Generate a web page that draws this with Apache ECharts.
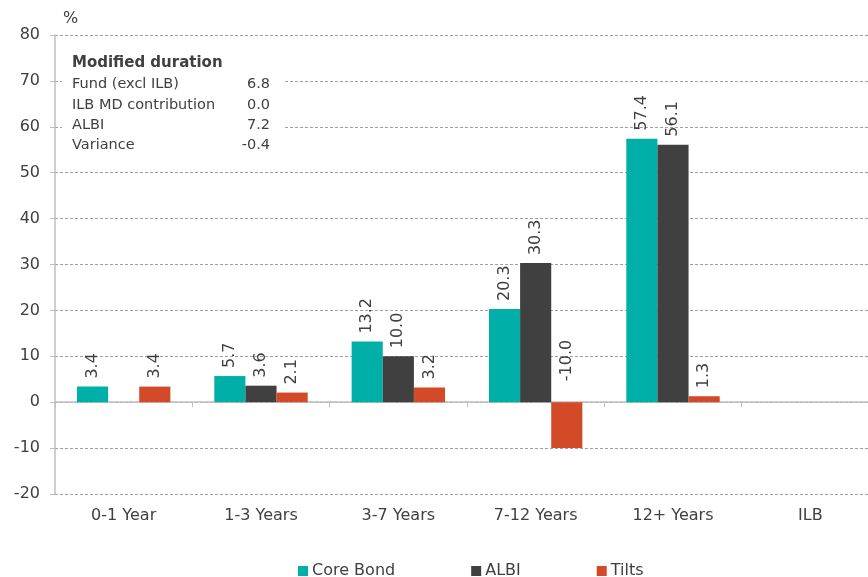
<!DOCTYPE html>
<html>
<head>
<meta charset="utf-8">
<script src="https://cdn.jsdelivr.net/npm/echarts@6/dist/echarts.min.js"></script>
<style>html,body{margin:0;padding:0;background:#fff;overflow:hidden;width:868px;height:577px}#c{width:879px;height:577px}</style>
</head>
<body>
<div id="c"></div>
<script>
var categories = ['0-1 Year', '1-3 Years', '3-7 Years', '7-12 Years', '12+ Years', 'ILB'];
var coreBond = [3.4, 5.7, 13.2, 20.3, 57.4, null];
var albi = [null, 3.6, 10.0, 30.3, 56.1, null];
var tilts = [3.4, 2.1, 3.2, -10.0, 1.3, null];
var yTicks = [-20, -10, 0, 10, 20, 30, 40, 50, 60, 70, 80];
var mdTitle = 'Modified duration';
var mdLabels = ['Fund (excl ILB)', 'ILB MD contribution', 'ALBI', 'Variance'];
var mdValues = ['6.8', '0.0', '7.2', '-0.4'];

var FONT = '"DejaVu Sans", Verdana, sans-serif';
var TXT = '#404040';
var chart = echarts.init(document.getElementById('c'), null, {renderer: 'canvas'});

function lbl() {
  return {
    show: true, position: 'top', rotate: 90, distance: 8,
    align: 'left', verticalAlign: 'middle',
    color: TXT, fontSize: 16, fontFamily: FONT,
    formatter: function (p) { return p.value == null ? '' : p.value.toFixed(1); }
  };
}
function mk(name, data, color) {
  return {
    name: name, type: 'bar',
    data: data.map(function (v) {
      return (v != null && v < 0) ? {value: v, label: {distance: 21}} : v;
    }),
    xAxisIndex: 0,
    barGap: '0%', barCategoryGap: '32%',
    itemStyle: {color: color},
    label: lbl(),
    emphasis: {disabled: true}
  };
}

var graphics = [{
  type: 'rect', left: 62, top: 44, z: 10,
  shape: {width: 222, height: 116},
  style: {fill: '#ffffff'}
}, {
  type: 'text', left: 63, top: 11, z: 11,
  style: {text: '%', fill: TXT, font: '16px ' + FONT}
}, {
  type: 'text', left: 72, top: 56, z: 11,
  style: {text: mdTitle, fill: TXT, font: 'bold 15px ' + FONT}
}];
mdLabels.forEach(function (t, i) {
  graphics.push({type: 'text', left: 72, top: 77 + i * 20.4, z: 11,
    style: {text: t, fill: TXT, font: '14.5px ' + FONT}});
  graphics.push({type: 'text', position: [270, 77 + i * 20.4], z: 11,
    style: {text: mdValues[i], fill: TXT, font: '14.5px ' + FONT, align: 'right', verticalAlign: 'top'}});
});

chart.setOption({
  animation: false,
  backgroundColor: '#ffffff',
  textStyle: {fontFamily: FONT},
  grid: {left: 55, right: 0, top: 35, bottom: 83, containLabel: false},
  legend: {
    data: ['Core Bond', 'ALBI', 'Tilts'],
    left: 293, top: 558, icon: 'rect', itemWidth: 10, itemHeight: 10,
    itemGap: 76,
    textStyle: {color: TXT, fontSize: 16, fontFamily: FONT, padding: [0, 0, 0, -1]}
  },
  xAxis: [{
    type: 'category', data: categories, position: 'bottom',
    axisLine: {onZero: true, lineStyle: {color: '#bfbfbf', width: 1.5}},
    axisTick: {show: true, length: 5, lineStyle: {color: '#bfbfbf'}},
    axisLabel: {show: false},
    splitLine: {show: false}
  }, {
    type: 'category', data: categories, position: 'bottom',
    axisLine: {show: false, onZero: false},
    axisTick: {show: false},
    axisLabel: {show: true, margin: 14, color: TXT, fontSize: 16, fontFamily: FONT},
    splitLine: {show: false}
  }],
  yAxis: {
    type: 'value', min: yTicks[0], max: yTicks[yTicks.length - 1], interval: 10,
    axisLine: {show: true, lineStyle: {color: '#bfbfbf', width: 1.5}},
    axisTick: {show: true, length: 5, lineStyle: {color: '#bfbfbf'}},
    axisLabel: {color: TXT, fontSize: 16, fontFamily: FONT, margin: 15},
    splitLine: {show: true, lineStyle: {color: '#a0a0a0', type: [3, 2], width: 1}}
  },
  series: [
    mk('Core Bond', coreBond, '#00B0A8'),
    mk('ALBI', albi, '#404040'),
    mk('Tilts', tilts, '#D24A28')
  ],
  graphic: graphics
});
</script>
</body>
</html>
